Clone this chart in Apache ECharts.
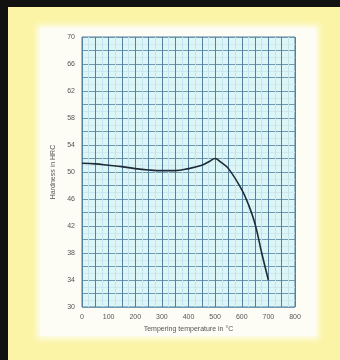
<!DOCTYPE html>
<html><head><meta charset="utf-8">
<script src="https://cdn.jsdelivr.net/npm/echarts@6/dist/echarts.min.js"></script>
<style>
html,body{margin:0;padding:0;width:340px;height:360px;background:#111;overflow:hidden}
#y{position:absolute;left:8px;top:7px;width:332px;height:353px;background:#fbf4a6}
#w{position:absolute;left:40px;top:28px;width:276px;height:308px;background:#fdfdf6;box-shadow:0 0 6px 3px #fdfdf0}
#c{position:absolute;left:0;top:0;width:340px;height:360px}
</style></head><body>
<div id="y"></div><div id="w"></div><div id="c"></div>
<script>
var temps = [0, 50, 100, 150, 200, 250, 300, 350, 400, 450, 480, 500, 520, 550, 600, 625, 650, 675, 700];
var hardness = [51.3, 51.2, 51.0, 50.8, 50.5, 50.3, 50.2, 50.2, 50.5, 51.0, 51.6, 52.0, 51.5, 50.5, 47.4, 45.2, 42.3, 38.0, 34.0];
var yTicks = [30, 34, 38, 42, 46, 50, 54, 58, 62, 66, 70];
var xTicks = [0, 100, 200, 300, 400, 500, 600, 700, 800];
var xName = 'Tempering temperature in °C';
var yName = 'Hardness in HRC';

var chart = echarts.init(document.getElementById('c'));
chart.setOption({
  animation: false,
  grid: {left: 82, right: 45, top: 37, bottom: 53, show: true, backgroundColor: '#dcf6f8', borderColor: '#4f7f9c', borderWidth: 1},
  xAxis: {
    type: 'value', min: 0, max: 800, interval: 50,
    name: xName, nameLocation: 'middle', nameGap: 18,
    nameTextStyle: {fontSize: 7, color: '#555', fontFamily: 'Liberation Sans'},
    axisLine: {show: false}, axisTick: {show: false},
    axisLabel: {fontSize: 7, color: '#555', margin: 7, fontFamily: 'Liberation Sans',
      formatter: function(v){ return xTicks.indexOf(v) >= 0 ? String(v) : ''; }},
    splitLine: {show: true, lineStyle: {color: '#557f9e', width: 1}},
    minorTick: {show: false, splitNumber: 2},
    minorSplitLine: {show: true, lineStyle: {color: '#c4e3ea', width: 1}}
  },
  yAxis: {
    type: 'value', min: 30, max: 70, interval: 2,
    name: yName, nameLocation: 'middle', nameGap: 24, nameRotate: 90,
    nameTextStyle: {fontSize: 7, color: '#555', fontFamily: 'Liberation Sans'},
    axisLine: {show: false}, axisTick: {show: false},
    axisLabel: {fontSize: 7, color: '#555', margin: 7, fontFamily: 'Liberation Sans',
      formatter: function(v){ return yTicks.indexOf(v) >= 0 ? String(v) : ''; }},
    splitLine: {show: true, lineStyle: {color: '#6f97b0', width: 1}},
    minorTick: {show: false, splitNumber: 2},
    minorSplitLine: {show: true, lineStyle: {color: '#cfe7ee', width: 1}}
  },
  series: [{
    type: 'line', smooth: 0.4, symbol: 'none',
    data: temps.map(function(t, i){ return [t, hardness[i]]; }),
    lineStyle: {color: '#1e2a36', width: 1.6}
  }]
});
</script></body></html>
